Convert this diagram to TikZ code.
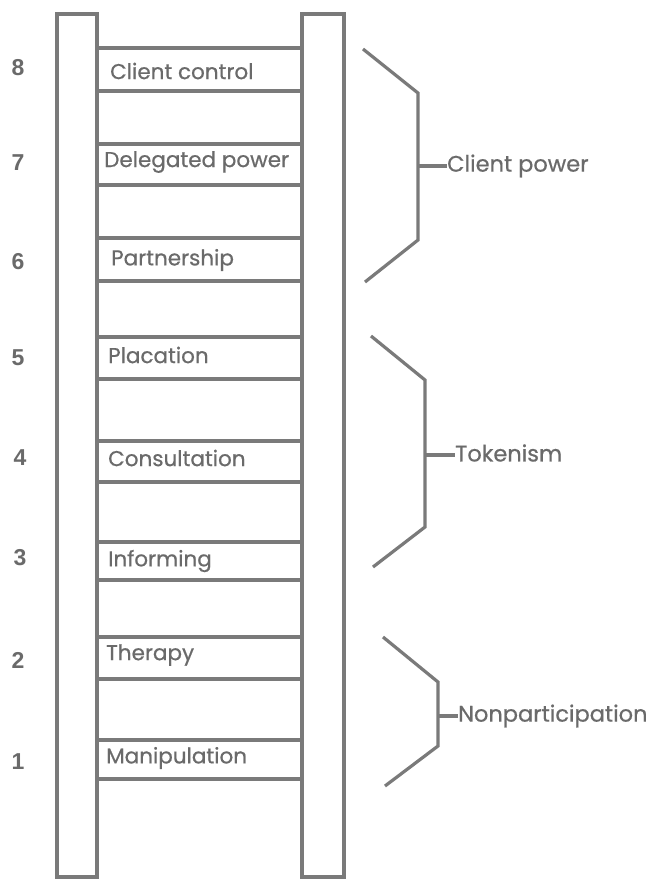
\documentclass[tikz,border=0pt]{standalone}
\usepackage{fontspec}
\setmainfont{Poppins}[FakeBold=0.6]
\newfontfamily\numfont{Liberation Sans}
\definecolor{ladder}{HTML}{7A7A7A}
\definecolor{txt}{HTML}{6A6A6A}
\begin{document}
\begin{tikzpicture}[x=1pt,y=-1pt,
  rail/.style={draw=ladder,line width=3.2pt},
  rung/.style={draw=ladder,line width=3.2pt},
  lbl/.style={anchor=west,inner sep=0pt,text=txt,font=\fontsize{21.5}{21.5}\selectfont},
  num/.style={anchor=center,inner sep=0pt,text=txt,font=\numfont\bfseries\fontsize{23}{23}\selectfont},
  brk/.style={draw=ladder,line width=3.2pt,line join=miter},
  grp/.style={anchor=west,inner sep=0pt,text=txt,font=\fontsize{22.5}{22.5}\selectfont}]
\useasboundingbox[fill=white] (0,0) rectangle (654,879);
% rails
\draw[rail] (57,14) rectangle (97,877);
\draw[rail] (302,14) rectangle (344,877);
% rungs
\foreach \t/\b/\n in {48/91/8,144/185/7,238/281/6,337/379/5,441/482/4,542/580/3,637/679/2,740/779/1}{
  \draw[rung] (97,\t) -- (302,\t);
  \draw[rung] (97,\b) -- (302,\b);
}
% labels
\node[lbl] (l8) at (110,71) {Client control};
\node[lbl] (l7) at (104,162) {Delegated power};
\node[lbl] (l6) at (111,260) {Partnership};
\node[lbl] (l5) at (108,355) {Placation};
\node[lbl] (l4) at (108,458) {Consultation};
\node[lbl] (l3) at (108,561) {Informing};
\node[lbl] (l2) at (106,655) {Therapy};
\node[lbl] (l1) at (106,758) {Manipulation};
% numbers
\node[num] (n8) at (18,68) {8};
\node[num] (n7) at (18,163) {7};
\node[num] (n6) at (18,262) {6};
\node[num] (n5) at (18,358) {5};
\node[num] (n4) at (20,458) {4};
\node[num] (n3) at (20,558) {3};
\node[num] (n2) at (18,660) {2};
\node[num] (n1) at (18,762) {1};
% brackets
\coordinate (cpm) at (418,166);
\draw[brk] (363,49) -- (418,93) -- (418,240) -- (365,282);
\node[grp] (cp) at (447,166) {Client power};
\draw[brk] (cpm) -- (cp.west);
\coordinate (tkm) at (425,455);
\draw[brk] (371,336) -- (425,380) -- (425,527) -- (373,567);
\node[grp] (tk) at (455,453) {Tokenism};
\draw[brk] (tkm) -- (tk.west |- tkm);
\coordinate (npm) at (438,716);
\draw[brk] (383,637) -- (438,682) -- (438,746) -- (385,786);
\node[grp] (np) at (458,716) {Nonparticipation};
\draw[brk] (npm) -- (np.west);
\end{tikzpicture}
\end{document}
